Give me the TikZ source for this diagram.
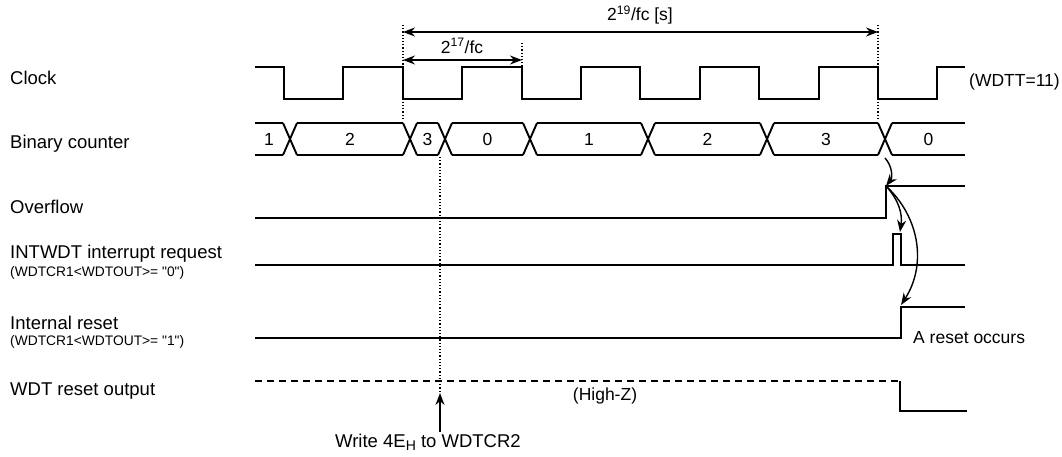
\documentclass[tikz,border=0pt]{standalone}
\usepackage{fontspec}
\setmainfont{Liberation Sans}
\usetikzlibrary{arrows.meta}

\begin{document}
\begin{tikzpicture}[x=1pt, y=-1pt]
\tikzset{
  wave/.style={line width=1.9pt, line join=miter},
  guide/.style={dotted, line width=1.2pt},
  dimarrow/.style={{Stealth[length=12pt,width=9pt]}-{Stealth[length=12pt,width=9pt]}, line width=1.2pt},
  cause/.style={-{Stealth[length=12pt,width=9pt]}, line width=1.4pt},
  lbl/.style={font=\fontsize{17.5}{20}\selectfont, inner sep=0pt},
  namelbl/.style={font=\fontsize{18.5}{21}\selectfont, inner sep=0pt, anchor=west},
  sublbl/.style={font=\fontsize{13.8}{16}\selectfont, inner sep=0pt, anchor=west}
}
\useasboundingbox (0,0) rectangle (1062,456);
% Counter value: {left edge}{right edge}{value}{name}
\newcommand{\cntseg}[4]{%
  \draw[wave] (#1,123) -- (#2,123);
  \draw[wave] (#1,155) -- (#2,155);
  \node[lbl] (#4) at ({(#1+#2)/2},139) {#3};
}
% Counter change: crossing centred at x
\newcommand{\cntcross}[1]{%
  \draw[wave] (#1-7,123) -- (#1+7,155);
  \draw[wave] (#1-7,155) -- (#1+7,123);
}
% signal names
\node[namelbl] (nclk) at (10,78) {Clock};
\node[namelbl] (ncnt) at (10,144) {Binary counter};
\node[namelbl] (novf) at (10,207) {Overflow};
\node[namelbl] (nirq) at (10,254) {INTWDT interrupt request};
\node[sublbl] (nirqc) at (10,273) {(WDTCR1<WDTOUT>= \textquotedbl0\textquotedbl)};
\node[namelbl] (nrst) at (10,323) {Internal reset};
\node[sublbl] (nrstc) at (10,342) {(WDTCR1<WDTOUT>= \textquotedbl1\textquotedbl)};
\node[namelbl] (nwdt) at (10,391) {WDT reset output};
% clock
\draw[wave] (255,67) \foreach \k in {0,...,5} {
  -- ({284+118.8*\k},67) -- ({284+118.8*\k},99)
  -- ({343.4+118.8*\k},99) -- ({343.4+118.8*\k},67)} -- (965,67);
\node[lbl, anchor=west] (wdtt) at (969,82) {(WDTT=11)};
% binary counter
\cntseg{255}{283}{1}{v1}
\cntcross{290}
\cntseg{297}{403}{2}{v2}
\cntcross{410}
\cntseg{417}{438}{3}{v3}
\cntcross{445}
\cntseg{452}{523}{0}{v4}
\cntcross{530}
\cntseg{537}{641}{1}{v5}
\cntcross{648}
\cntseg{655}{760}{2}{v6}
\cntcross{767}
\cntseg{774}{878}{3}{v7}
\cntcross{885}
\cntseg{892}{965}{0}{v8}
% overflow, interrupt, reset
\draw[wave] (255,218) -- (886,218) -- (886,186) -- (965,186);
\draw[wave] (255,265) -- (893,265) -- (893,234) -- (901,234) -- (901,265) -- (965,265);
\draw[wave] (255,338) -- (901,338) -- (901,307) -- (965,307);
\node[lbl, anchor=west] (occ) at (913,338) {A reset occurs};
% WDT reset output
\draw[wave, dash pattern=on 7pt off 5pt] (255,381) -- (900,381);
\draw[wave] (900,381) -- (900,411) -- (967,411);
\node[lbl] (hiz) at (605,396) {(High-Z)};
% time marks
\coordinate (t0) at (403,32);
\coordinate (t4) at (878,32);
\coordinate (s0) at (403,60);
\coordinate (s1) at (522,60);
\draw[guide] (403,25) -- (403,119);
\draw[guide] (522,43) -- (522,67);
\draw[guide] (878,25) -- (878,119);
\draw[dimarrow] (t0) -- (t4);
\draw[dimarrow] (s0) -- (s1);
\node[lbl] (tlong) at (640,15) {2\textsuperscript{19}/fc [s]};
\node[lbl] (tshort) at (462,46) {2\textsuperscript{17}/fc};
% causes
\coordinate (cx) at (885,158);
\coordinate (ovf) at (886,186);
\coordinate (irq) at (900,232);
\coordinate (rst) at (901,305);
\draw[cause] (cx) to[bend left=40] (ovf);
\draw[cause] (ovf) to[bend left=25] (irq);
\draw[cause] (ovf) to[bend left=40] (rst);
% write
\coordinate (wr) at (440,393);
\coordinate (wb) at (440,432);
\node[namelbl] (wtxt) at (335,442) {Write 4E\raisebox{-0.35ex}{\fontsize{14}{16}\selectfont H} to WDTCR2};
\draw[guide] (440,157) -- (wr);
\draw[cause] (wb) -- (wr);
\end{tikzpicture}
\end{document}
